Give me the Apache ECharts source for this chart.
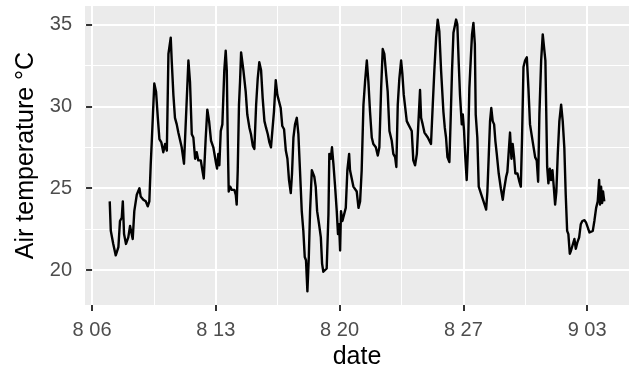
<!DOCTYPE html>
<html><head><meta charset="utf-8">
<script src="https://cdn.jsdelivr.net/npm/echarts@6/dist/echarts.min.js"></script>
<style>html,body{margin:0;padding:0;background:#fff}#c{width:636px;height:371px}</style>
</head><body><div id="c"></div>
<script>
// days after 6 August 00:00 (hourly record)
const days = [
1.00,1.06,1.20,1.34,1.49,1.58,1.68,1.74,1.81,1.92,
2.05,2.15,2.25,2.30,2.39,2.53,2.68,2.75,2.90,3.04,
3.15,3.24,3.32,3.38,3.43,3.52,3.62,3.72,3.81,3.92,
4.03,4.13,4.23,4.32,4.37,4.45,4.51,4.60,4.69,4.79,
4.88,4.98,5.07,5.20,5.32,5.45,5.54,5.64,5.73,5.83,
5.92,6.01,6.15,6.24,6.32,6.43,6.52,6.62,6.73,6.86,
7.00,7.07,7.14,7.20,7.28,7.37,7.48,7.56,7.62,7.68,
7.73,7.81,7.90,8.05,8.13,8.18,8.24,8.31,8.37,8.43,
8.50,8.56,8.61,8.69,8.78,8.90,8.99,9.09,9.18,9.28,
9.37,9.46,9.56,9.65,9.75,9.84,9.94,10.03,10.12,10.22,
10.29,10.39,10.48,10.58,10.67,10.76,10.86,10.96,11.05,11.14,
11.24,11.31,11.39,11.48,11.58,11.67,11.76,11.86,11.95,12.03,
12.10,12.18,12.26,12.33,12.43,12.50,12.57,12.65,12.73,12.84,
12.94,13.01,13.08,13.18,13.27,13.37,13.42,13.50,13.57,13.65,
13.74,13.84,13.91,13.97,14.03,14.08,14.16,14.25,14.35,14.44,
14.54,14.59,14.69,14.78,14.89,14.97,15.07,15.16,15.25,15.35,
15.44,15.54,15.63,15.72,15.82,15.91,16.05,16.16,16.25,16.35,
16.44,16.53,16.63,16.72,16.82,16.95,17.04,17.14,17.21,17.29,
17.38,17.48,17.55,17.63,17.70,17.80,17.89,18.00,18.08,18.17,
18.27,18.37,18.46,18.55,18.61,18.70,18.80,18.89,18.99,19.08,
19.17,19.27,19.36,19.46,19.55,19.64,19.74,19.87,19.95,20.02,
20.10,20.21,20.29,20.36,20.44,20.51,20.59,20.66,20.74,20.81,
20.91,20.97,21.04,21.11,21.19,21.27,21.34,21.42,21.49,21.57,
21.65,21.70,21.79,21.87,21.95,22.02,22.10,22.17,22.29,22.36,
22.44,22.51,22.58,22.66,22.74,22.81,22.89,23.00,23.12,23.23,
23.30,23.42,23.49,23.57,23.64,23.72,23.79,23.87,23.94,24.06,
24.17,24.25,24.32,24.40,24.49,24.59,24.68,24.77,24.87,24.96,
25.06,25.15,25.23,25.30,25.40,25.49,25.57,25.64,25.74,25.81,
25.89,25.96,26.04,26.12,26.19,26.26,26.34,26.43,26.53,26.62,
26.71,26.79,26.87,26.94,27.02,27.09,27.19,27.28,27.36,27.45,
27.55,27.64,27.73,27.85,27.94,28.04,28.13,28.22,28.32,28.41,
28.51,28.60,28.68,28.73,28.79,28.85,28.90,28.97
];
// air temperature, °C
const temps = [
24.2,22.4,21.6,20.9,21.4,23.0,23.2,24.2,22.2,21.6,
22.0,22.7,22.8,21.9,23.6,24.6,25.0,24.5,24.3,24.2,
23.9,24.2,26.5,27.9,28.0,31.4,30.9,29.3,28.0,27.8,
27.2,27.7,27.3,33.2,33.3,34.2,32.7,30.7,29.3,28.9,
28.4,28.3,27.5,26.5,29.5,32.8,31.5,28.3,28.1,26.8,
27.2,26.7,26.7,26.1,25.6,28.1,29.8,29.1,27.9,27.5,
26.6,26.2,27.1,26.4,28.5,28.9,32.2,33.4,32.2,27.7,
24.8,25.1,24.9,24.9,24.6,24.0,26.1,30.1,31.5,33.3,
33.2,32.2,32.3,30.9,29.5,28.7,28.3,27.6,27.4,30.1,
31.7,32.7,32.2,30.5,29.1,28.7,28.3,27.8,27.5,27.6,
29.7,31.6,30.7,30.7,29.9,28.8,28.6,27.3,26.8,25.5,
24.7,25.9,28.1,28.9,29.3,28.3,26.1,23.6,22.4,20.8,
20.6,18.7,20.8,23.6,26.1,25.9,25.7,25.1,23.6,22.8,
22.0,20.4,19.9,19.8,20.1,23.4,27.1,26.8,27.5,26.5,
25.2,23.6,22.2,22.8,21.2,23.6,23.0,23.1,23.8,26.1,
27.1,26.1,26.0,25.1,25.2,24.8,23.8,24.2,26.1,30.1,
31.5,32.8,31.5,29.7,28.1,27.7,27.5,27.0,27.5,31.1,
33.5,33.2,33.2,30.9,28.5,27.9,27.1,26.9,26.3,30.1,
31.7,32.8,32.0,30.7,30.6,29.1,28.9,28.8,28.5,26.7,
26.4,27.1,27.1,31.0,29.3,28.9,28.4,28.4,28.1,28.0,
27.7,30.1,32.2,34.2,35.3,34.6,32.2,29.7,28.7,28.1,
26.9,26.6,29.5,32.2,34.5,34.6,35.3,35.0,32.6,30.7,
28.9,29.5,28.5,26.9,25.5,27.7,31.1,32.9,34.4,35.1,
33.8,29.5,28.1,25.1,25.0,24.6,24.6,24.1,23.7,24.8,
27.1,29.1,29.9,29.1,28.9,27.9,27.1,25.9,25.0,24.3,
24.9,25.7,26.0,27.3,28.4,26.8,27.7,26.9,25.9,25.9,
25.4,25.1,28.1,32.4,32.8,33.0,31.1,28.9,28.2,28.2,
26.9,26.7,25.4,29.5,32.8,34.4,34.4,32.8,26.3,25.3,
26.2,25.5,26.1,25.0,24.0,24.8,27.1,29.1,30.1,29.1,
27.5,24.6,22.4,22.2,21.0,21.2,21.1,21.9,21.3,21.7,
22.0,22.8,23.0,23.05,22.9,22.6,22.3,22.2,22.4,23.0,
23.8,24.2,25.5,24.0,25.1,24.1,24.8,24.2
];
const xTickDays = [0, 7, 14, 21, 28];
const xTickLabels = ['8 06', '8 13', '8 20', '8 27', '9 03'];
const xMinorDays = [3.5, 10.5, 17.5, 24.5];
const yTicks = [20, 25, 30, 35];
const yMinor = [22.5, 27.5, 32.5];

const FONT = 'Liberation Sans, Arial, sans-serif';
const dMin = Math.min(...days), dMax = Math.max(...days);
const tMin = Math.min(...temps), tMax = Math.max(...temps);
const xPad = 0.05 * (dMax - dMin), yPad = 0.05 * (tMax - tMin);
const xMin = dMin - xPad, xMax = dMax + xPad;
const yMin = tMin - yPad, yMax = tMax + yPad;

const chart = echarts.init(document.getElementById('c'), null, {renderer: 'canvas'});
chart.setOption({
  animation: false,
  grid: {left: 85, right: 7, top: 6, bottom: 66, show: true, backgroundColor: '#EBEBEB',
         borderWidth: 0, containLabel: false, outerBoundsMode: 'none'},
  xAxis: [{
    type: 'value', min: xMin, max: xMax,
    axisLine: {show: false},
    axisTick: {show: true, customValues: xTickDays, length: 6, lineStyle: {color: '#333333', width: 2}},
    axisLabel: {customValues: xTickDays, color: '#4D4D4D', fontSize: 20, fontFamily: FONT, margin: 15,
      formatter: v => { const i = xTickDays.findIndex(d => Math.abs(d - v) < 1e-6); return i >= 0 ? xTickLabels[i] : ''; }},
    splitLine: {show: true, lineStyle: {color: '#FFFFFF', width: 2}},
    name: 'date', nameLocation: 'middle', nameGap: 33,
    nameTextStyle: {color: '#000000', fontSize: 25, fontFamily: FONT}
  }, {
    type: 'value', min: xMin, max: xMax, gridIndex: 0,
    axisLine: {show: false},
    axisTick: {show: false, customValues: xMinorDays},
    axisLabel: {show: false, customValues: xMinorDays},
    splitLine: {show: true, lineStyle: {color: '#FFFFFF', width: 1}}
  }],
  yAxis: [{
    type: 'value', min: yMin, max: yMax,
    axisLine: {show: false},
    axisTick: {show: true, customValues: yTicks, length: 6, lineStyle: {color: '#333333', width: 2}},
    axisLabel: {customValues: yTicks, color: '#4D4D4D', fontSize: 20, fontFamily: FONT, margin: 13,
      formatter: v => String(Math.round(v))},
    splitLine: {show: true, lineStyle: {color: '#FFFFFF', width: 2}},
    name: 'Air temperature °C', nameLocation: 'middle', nameGap: 38, nameRotate: 90,
    nameTextStyle: {color: '#000000', fontSize: 25, fontFamily: FONT}
  }, {
    type: 'value', min: yMin, max: yMax, gridIndex: 0,
    axisLine: {show: false},
    axisTick: {show: false, customValues: yMinor},
    axisLabel: {show: false, customValues: yMinor},
    splitLine: {show: true, lineStyle: {color: '#FFFFFF', width: 1}}
  }],
  series: [{
    type: 'line', xAxisIndex: 0, yAxisIndex: 0,
    data: days.map((d, i) => [d, temps[i]]),
    showSymbol: false, symbol: 'none', clip: true,
    lineStyle: {color: '#000000', width: 2.4, join: 'round'}
  }]
});
</script>
</body></html>
